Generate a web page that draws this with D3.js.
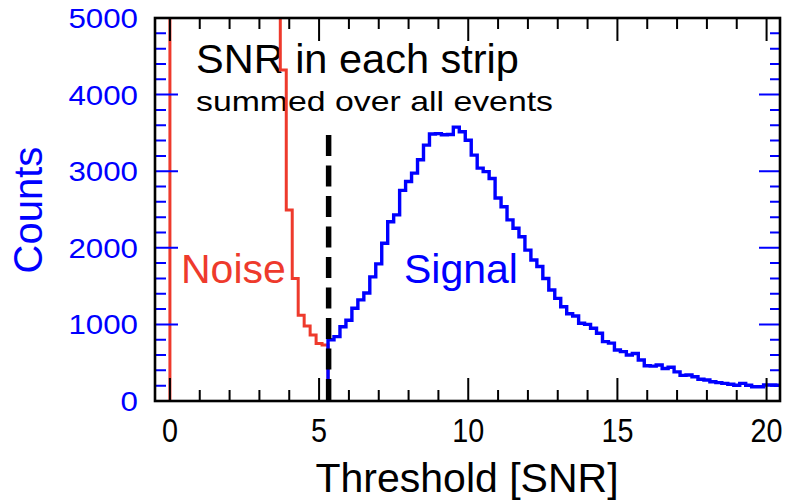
<!DOCTYPE html>
<html>
<head>
<meta charset="utf-8">
<script src="https://cdn.jsdelivr.net/npm/d3@7"></script>
<style>
  body { margin: 0; background: #fff; }
  svg { display: block; font-family: "Liberation Sans", Arial, sans-serif; }
</style>
</head>
<body>
<div id="chart"></div>
<script>
// noise histogram, given by bin edges; the first region (0 - 3.5) is off scale (> 5000) and gets clipped
var noiseEdges = [0.0, 3.5, 3.7, 3.9, 4.1, 4.3, 4.5, 4.7, 4.9, 5.1, 5.3]
var noiseCounts = [6000, 6000, 4320, 2495, 1600, 1120, 980, 860, 750, 730]

// signal histogram, bins 0.2 SNR wide, given by lower edge
var signalLo = [5.3, 5.5, 5.7, 5.9, 6.1, 6.3, 6.5, 6.7, 6.9, 7.1, 7.3, 7.5, 7.7, 7.9, 8.1, 8.3, 8.5, 8.7, 8.9, 9.1,
                9.3, 9.5, 9.7, 9.9, 10.1, 10.3, 10.5, 10.7, 10.9, 11.1, 11.3, 11.5, 11.7, 11.9, 12.1, 12.3, 12.5, 12.7, 12.9, 13.1,
                13.3, 13.5, 13.7, 13.9, 14.1, 14.3, 14.5, 14.7, 14.9, 15.1, 15.3, 15.5, 15.7, 15.9, 16.1, 16.3, 16.5, 16.7, 16.9, 17.1,
                17.3, 17.5, 17.7, 17.9, 18.1, 18.3, 18.5, 18.7, 18.9, 19.1, 19.3, 19.5, 19.7, 19.9, 20.1, 20.3]
var signalCounts = [800, 840, 970, 1055, 1210, 1320, 1410, 1620, 1790, 2060, 2340, 2430, 2750, 2865, 2975, 3150, 3340, 3485, 3490, 3475,
                    3480, 3575, 3515, 3405, 3210, 3040, 2995, 2905, 2650, 2535, 2365, 2255, 2145, 1970, 1840, 1755, 1600, 1450, 1340, 1230,
                    1140, 1110, 1015, 1000, 950, 885, 775, 755, 665, 645, 600, 620, 535, 460, 455, 470, 425, 440, 380, 335,
                    340, 317, 283, 275, 252, 240, 230, 218, 205, 230, 205, 187, 187, 209, 209, 205]
var binWidth = 0.2
var threshold = 5.32

var xTicks = [0, 5, 10, 15, 20]
var xMinor = [1, 2, 3, 4, 6, 7, 8, 9, 11, 12, 13, 14, 16, 17, 18, 19]
var yTicks = [0, 1000, 2000, 3000, 4000, 5000]
var yMinor = [200, 400, 600, 800, 1200, 1400, 1600, 1800, 2200, 2400, 2600, 2800, 3200, 3400, 3600, 3800, 4200, 4400, 4600, 4800]

var W = 787, H = 501
var mLeft = 155, mRight = 780, mTop = 18, mBottom = 401
var red = "#ee3a2c", blue = "#0000ff"

var svg = d3.select("#chart").append("svg")
    .attr("width", W)
    .attr("height", H)

var x = d3.scaleLinear().domain([-0.5, 20.45]).range([mLeft, mRight])
var y = d3.scaleLinear().domain([0, 5000]).range([mBottom, mTop])

svg.append("clipPath")
    .attr("id", "plotclip")
  .append("rect")
    .attr("x", mLeft)
    .attr("y", mTop)
    .attr("width", mRight - mLeft)
    .attr("height", mBottom - mTop)

// texts inside the frame (curves go over them)
svg.append("text")
    .attr("x", 196)
    .attr("y", 73)
    .attr("font-size", 41.5)
    .text("SNR in each strip")

svg.append("text")
    .attr("x", 196)
    .attr("y", 111)
    .attr("font-size", 28)
    .attr("textLength", 357)
    .attr("lengthAdjust", "spacingAndGlyphs")
    .text("summed over all events")

svg.append("text")
    .attr("x", 181)
    .attr("y", 283)
    .attr("font-size", 41)
    .attr("fill", red)
    .text("Noise")

svg.append("text")
    .attr("x", 404)
    .attr("y", 283)
    .attr("font-size", 41)
    .attr("fill", blue)
    .text("Signal")

// step outline of a histogram from its edges
function stepPoints(edges, counts){
  var pts = [[edges[0], 0]]
  for(var i = 0; i < counts.length; i++){
    pts.push([edges[i], counts[i]])
    pts.push([edges[i+1], counts[i]])
  }
  pts.push([edges[edges.length-1], 0])
  return pts
}

var signalEdges = signalLo.concat([signalLo[signalLo.length-1] + binWidth])

var line = d3.line()
    .x(d => x(d[0]))
    .y(d => y(d[1]))

var plot = svg.append("g").attr("clip-path", "url(#plotclip)")

plot.append("path")
    .attr("d", line(stepPoints(noiseEdges, noiseCounts)))
    .attr("fill", "none")
    .attr("stroke", red)
    .attr("stroke-width", 3)

plot.append("path")
    .attr("d", line(stepPoints(signalEdges, signalCounts)))
    .attr("fill", "none")
    .attr("stroke", blue)
    .attr("stroke-width", 3.4)

// threshold cut
plot.append("line")
    .attr("x1", x(threshold))
    .attr("x2", x(threshold))
    .attr("y1", 135)
    .attr("y2", mBottom)
    .attr("stroke", "black")
    .attr("stroke-width", 5.5)
    .attr("stroke-dasharray", "21,9.5")

// ticks
var ticks = svg.append("g")

ticks.selectAll(".xmaj").data(xTicks).enter().append("path")
    .attr("d", d => "M" + x(d) + "," + mBottom + "V" + (mBottom - 23) + "M" + x(d) + "," + mTop + "V" + (mTop + 23))
    .attr("stroke", "black")
    .attr("stroke-width", 2)

ticks.selectAll(".xmin").data(xMinor).enter().append("path")
    .attr("d", d => "M" + x(d) + "," + mBottom + "V" + (mBottom - 11) + "M" + x(d) + "," + mTop + "V" + (mTop + 11))
    .attr("stroke", "black")
    .attr("stroke-width", 2)

ticks.selectAll(".ymaj").data(yTicks).enter().append("path")
    .attr("d", d => "M" + mLeft + "," + y(d) + "H" + (mLeft + 23) + "M" + mRight + "," + y(d) + "H" + (mRight - 21))
    .attr("stroke", blue)
    .attr("stroke-width", 2)

ticks.selectAll(".ymin").data(yMinor).enter().append("path")
    .attr("d", d => "M" + mLeft + "," + y(d) + "H" + (mLeft + 11) + "M" + mRight + "," + y(d) + "H" + (mRight - 10))
    .attr("stroke", blue)
    .attr("stroke-width", 2)

// frame
svg.append("rect")
    .attr("x", mLeft)
    .attr("y", mTop)
    .attr("width", mRight - mLeft)
    .attr("height", mBottom - mTop)
    .attr("fill", "none")
    .attr("stroke", "black")
    .attr("stroke-width", 2.6)

// tick labels
svg.selectAll(".xlab").data(xTicks).enter().append("text")
    .attr("x", d => x(d))
    .attr("y", 442)
    .attr("text-anchor", "middle")
    .attr("font-size", 34)
    .attr("textLength", d => String(d).length * 16)
    .attr("lengthAdjust", "spacingAndGlyphs")
    .text(d => d)

svg.selectAll(".ylab").data(yTicks).enter().append("text")
    .attr("x", 138)
    .attr("y", d => y(d) + 10)
    .attr("text-anchor", "end")
    .attr("font-size", 27.5)
    .attr("fill", blue)
    .attr("textLength", d => String(d).length * 17.4)
    .attr("lengthAdjust", "spacingAndGlyphs")
    .text(d => d)

// axis titles
svg.append("text")
    .attr("x", 467)
    .attr("y", 492)
    .attr("text-anchor", "middle")
    .attr("font-size", 41)
    .text("Threshold [SNR]")

svg.append("text")
    .attr("transform", "translate(42,210) rotate(-90)")
    .attr("text-anchor", "middle")
    .attr("font-size", 40)
    .attr("fill", blue)
    .text("Counts")
</script>
</body>
</html>
